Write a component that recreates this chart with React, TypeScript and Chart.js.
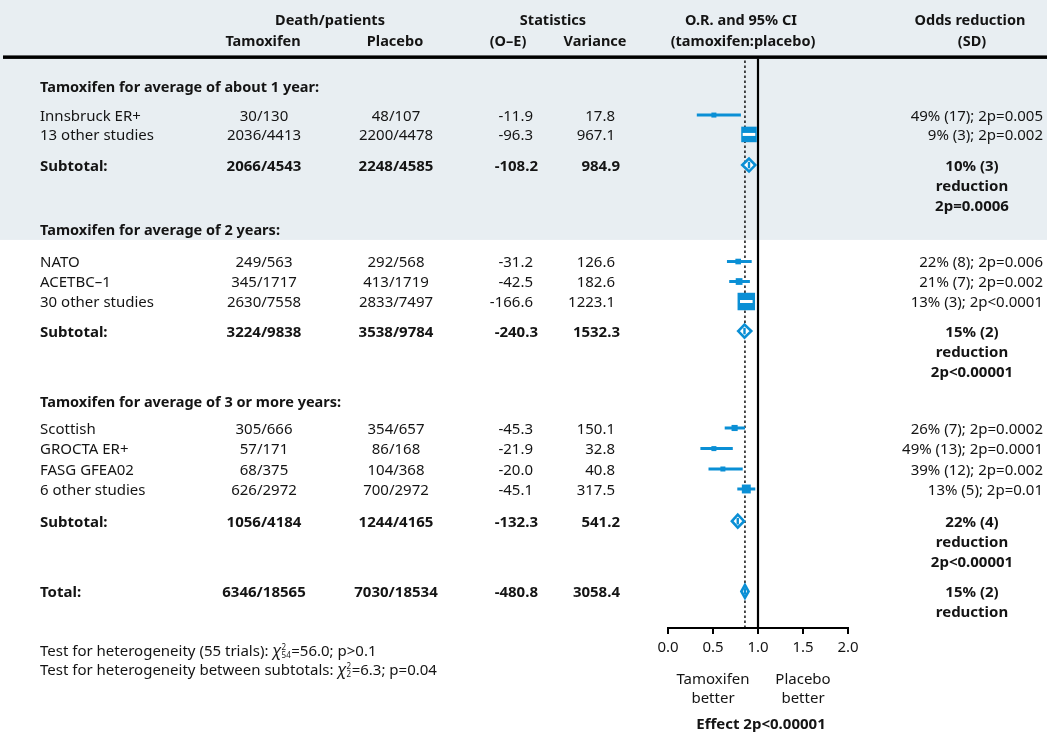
import { useEffect, useRef } from 'react';
import { Chart, registerables } from 'chart.js';

Chart.register(...registerables);

const FONT = '"Noto Sans", "Open Sans", sans-serif';
const BLUE = '#0a8fd5';
const SHADE = '#e8eef2';
const INK = '#141414';
const ROW_PX = 20.4; // one layout row in pixels
const Y_MAX = 735 / ROW_PX;
const TEXT_DY = 1.5;

// ---- Header ----
const HEAD_LINE1 = ['Death/patients', 'Statistics', 'O.R. and 95% CI', 'Odds reduction'];
const HEAD_LINE2 = ['Tamoxifen', 'Placebo', '(O–E)', 'Variance', '(tamoxifen:placebo)', '(SD)'];

// ---- Sections ----
const SECTION_TITLES = [
  'Tamoxifen for average of about 1 year:',
  'Tamoxifen for average of 2 years:',
  'Tamoxifen for average of 3 or more years:',
];
const SECTION_ROWS = [4.22, 11.23, 19.66];

// ---- Individual studies ----
const STUDY_NAMES = ['Innsbruck ER+', '13 other studies', 'NATO', 'ACETBC–1', '30 other studies', 'Scottish', 'GROCTA ER+', 'FASG GFEA02', '6 other studies'];
const STUDY_TAM = ['30/130', '2036/4413', '249/563', '345/1717', '2630/7558', '305/666', '57/171', '68/375', '626/2972'];
const STUDY_PLA = ['48/107', '2200/4478', '292/568', '413/1719', '2833/7497', '354/657', '86/168', '104/368', '700/2972'];
const STUDY_OE = [-11.9, -96.3, -31.2, -42.5, -166.6, -45.3, -21.9, -20.0, -45.1];
const STUDY_VAR = [17.8, 967.1, 126.6, 182.6, 1223.1, 150.1, 32.8, 40.8, 317.5];
const STUDY_OR = [0.51, 0.9, 0.78, 0.79, 0.87, 0.74, 0.51, 0.61, 0.87];
const STUDY_LO = [0.32, 0.83, 0.655, 0.68, 0.8, 0.63, 0.36, 0.45, 0.77];
const STUDY_HI = [0.81, 0.97, 0.93, 0.91, 0.94, 0.855, 0.72, 0.83, 0.97];
const STUDY_RED = ['49% (17); 2p=0.005', '9% (3); 2p=0.002', '22% (8); 2p=0.006', '21% (7); 2p=0.002', '13% (3); 2p<0.0001', '26% (7); 2p=0.0002', '49% (13); 2p=0.0001', '39% (12); 2p=0.002', '13% (5); 2p=0.01'];
const STUDY_ROWS = [5.64, 6.59, 12.82, 13.8, 14.78, 20.98, 21.99, 22.99, 23.97];

// ---- Subtotals and total ----
const SUB_LABELS = ['Subtotal:', 'Subtotal:', 'Subtotal:', 'Total:'];
const SUB_TAM = ['2066/4543', '3224/9838', '1056/4184', '6346/18565'];
const SUB_PLA = ['2248/4585', '3538/9784', '1244/4165', '7030/18534'];
const SUB_OE = [-108.2, -240.3, -132.3, -480.8];
const SUB_VAR = [984.9, 1532.3, 541.2, 3058.4];
const SUB_OR = [0.9, 0.85, 0.775, 0.855];
const SUB_LO = [0.825, 0.78, 0.71, 0.815];
const SUB_HI = [0.97, 0.925, 0.845, 0.895];
const SUB_RED = [
  ['10% (3)', 'reduction', '2p=0.0006'],
  ['15% (2)', 'reduction', '2p<0.00001'],
  ['22% (4)', 'reduction', '2p<0.00001'],
  ['15% (2)', 'reduction'],
];
const SUB_ROWS = [8.09, 16.23, 25.55, 28.99];

const OVERALL_OR = 0.855;
const X_TICKS = [0, 0.5, 1, 1.5, 2];

// ---- Layout rows ----
const HEAD_ROWS = [0.93, 1.96];
const RULE_ROW = 2.79;
const SHADE_END_ROW = 11.76;
const LINE_TOP_ROW = 2.87;
const AXIS_ROW = 30.78;
const HET_ROWS = [31.86, 32.8];
const BETTER_ROWS = [33.24, 34.2];
const EFFECT_ROW = 35.45;

const HET_TEXT = [
  ['Test for heterogeneity (55 trials): ', '2', '54', '=56.0; p>0.1'],
  ['Test for heterogeneity between subtotals: ', '2', '2', '=6.3; p=0.04'],
];

const COL = { label: 40, tam: 264, pla: 396, oeR: 533, varR: 615, redR: 1043, redC: 972 };
const HEAD1_X = [330, 553, 741, 970];
const HEAD2_X = [263, 395, 508, 595, 743, 972];

const boxSide = (v: number) => Math.max(5, 0.5 * Math.sqrt(v));

export default function App() {
  const ref = useRef<HTMLCanvasElement>(null);

  useEffect(() => {
    const canvas = ref.current!;

    const text = (ctx: CanvasRenderingContext2D, s: string, x: number, y: number, align: CanvasTextAlign, bold = false, size = 15) => {
      ctx.font = `${bold ? 'bold ' : ''}${size}px ${FONT}`;
      ctx.textAlign = align;
      ctx.textBaseline = 'middle';
      ctx.fillStyle = INK;
      ctx.fillText(s, x, y + TEXT_DY);
    };

    const bgPlugin = {
      id: 'bg',
      beforeDraw(chart: any) {
        const { ctx, width } = chart;
        const ys = chart.scales.y;
        ctx.save();
        ctx.fillStyle = '#ffffff';
        ctx.fillRect(0, 0, width, chart.height);
        ctx.fillStyle = SHADE;
        ctx.fillRect(0, 0, width, ys.getPixelForValue(SHADE_END_ROW));
        ctx.fillStyle = '#000';
        ctx.fillRect(3, ys.getPixelForValue(RULE_ROW) - 1.5, width - 3, 3.5);
        ctx.restore();
      },
    };

    const marksPlugin = {
      id: 'marks',
      afterDatasetsDraw(chart: any) {
        const { ctx } = chart;
        const xs = chart.scales.x;
        const ys = chart.scales.y;
        ctx.save();
        // white CI line inside large boxes
        STUDY_OR.forEach((or, i) => {
          const side = boxSide(STUDY_VAR[i]);
          if (side < 12) return;
          const cx = xs.getPixelForValue(or);
          const cy = ys.getPixelForValue(STUDY_ROWS[i]);
          const l = Math.max(xs.getPixelForValue(STUDY_LO[i]), cx - side / 2 + 1);
          const r = Math.min(xs.getPixelForValue(STUDY_HI[i]), cx + side / 2 - 1);
          ctx.fillStyle = '#fff';
          ctx.fillRect(l, cy - 1.5, r - l, 3);
        });
        // diamonds
        SUB_OR.forEach((or, i) => {
          const cx = xs.getPixelForValue(or);
          const cy = ys.getPixelForValue(SUB_ROWS[i]);
          const l = xs.getPixelForValue(SUB_LO[i]);
          const r = xs.getPixelForValue(SUB_HI[i]);
          const h = 6.5;
          ctx.beginPath();
          ctx.moveTo(l, cy);
          ctx.lineTo(cx, cy - h);
          ctx.lineTo(r, cy);
          ctx.lineTo(cx, cy + h);
          ctx.closePath();
          ctx.fillStyle = '#fff';
          ctx.fill();
          ctx.lineWidth = 2.6;
          ctx.strokeStyle = BLUE;
          ctx.lineJoin = 'miter';
          ctx.stroke();
          ctx.fillStyle = BLUE;
          ctx.fillRect(cx - 1.2, cy - h * 0.5, 2.4, h);
        });
        ctx.restore();
      },
    };

    const textPlugin = {
      id: 'texts',
      afterDraw(chart: any) {
        const { ctx } = chart;
        const xs = chart.scales.x;
        const ys = chart.scales.y;
        const Y = (r: number) => ys.getPixelForValue(r);
        ctx.save();
        HEAD_LINE1.forEach((s, i) => text(ctx, s, HEAD1_X[i], Y(HEAD_ROWS[0]), 'center', true, 14.5));
        HEAD_LINE2.forEach((s, i) => text(ctx, s, HEAD2_X[i], Y(HEAD_ROWS[1]), 'center', true, 14.5));

        SECTION_TITLES.forEach((s, i) => text(ctx, s, COL.label, Y(SECTION_ROWS[i]), 'left', true, 14.5));

        STUDY_NAMES.forEach((s, i) => {
          const y = Y(STUDY_ROWS[i]);
          text(ctx, s, COL.label, y, 'left');
          text(ctx, STUDY_TAM[i], COL.tam, y, 'center');
          text(ctx, STUDY_PLA[i], COL.pla, y, 'center');
          text(ctx, STUDY_OE[i].toFixed(1), COL.oeR, y, 'right');
          text(ctx, STUDY_VAR[i].toFixed(1), COL.varR, y, 'right');
          text(ctx, STUDY_RED[i], COL.redR, y, 'right');
        });

        SUB_LABELS.forEach((s, i) => {
          const y = Y(SUB_ROWS[i]);
          text(ctx, s, COL.label, y, 'left', true);
          text(ctx, SUB_TAM[i], COL.tam, y, 'center', true);
          text(ctx, SUB_PLA[i], COL.pla, y, 'center', true);
          text(ctx, SUB_OE[i].toFixed(1), COL.oeR + 5, y, 'right', true);
          text(ctx, SUB_VAR[i].toFixed(1), COL.varR + 5, y, 'right', true);
          SUB_RED[i].forEach((line, k) => text(ctx, line, COL.redC, Y(SUB_ROWS[i] + k * 0.98), 'center', true));
        });

        // heterogeneity tests
        HET_TEXT.forEach(([pre, sup, sub, post], i) => {
          const y = Y(HET_ROWS[i]);
          let x = COL.label;
          text(ctx, pre, x, y, 'left');
          x += ctx.measureText(pre).width;
          ctx.font = `italic 16px ${FONT}`;
          ctx.textAlign = 'left';
          ctx.fillText('χ', x, y + TEXT_DY);
          x += ctx.measureText('χ').width;
          ctx.font = `8px ${FONT}`;
          ctx.fillText(sup, x, y + TEXT_DY - 4);
          ctx.fillText(sub, x, y + TEXT_DY + 4);
          x += Math.max(ctx.measureText(sup).width, ctx.measureText(sub).width) + 0.5;
          text(ctx, post, x, y, 'left');
        });

        // direction labels
        const xl = xs.getPixelForValue(0.5);
        const xr = xs.getPixelForValue(1.5);
        text(ctx, 'Tamoxifen', xl, Y(BETTER_ROWS[0]), 'center');
        text(ctx, 'better', xl, Y(BETTER_ROWS[1]), 'center');
        text(ctx, 'Placebo', xr, Y(BETTER_ROWS[0]), 'center');
        text(ctx, 'better', xr, Y(BETTER_ROWS[1]), 'center');
        text(ctx, 'Effect 2p<0.00001', xs.getPixelForValue(1) + 3, Y(EFFECT_ROW), 'center', true);
        ctx.restore();
      },
    };

    const ciSets = STUDY_OR.map((_, i) => ({
      type: 'scatter' as const,
      data: [
        { x: STUDY_LO[i], y: STUDY_ROWS[i] },
        { x: STUDY_HI[i], y: STUDY_ROWS[i] },
      ],
      showLine: true,
      borderColor: BLUE,
      borderWidth: 3,
      pointRadius: 0,
      order: 2,
    }));

    const chart = new Chart(canvas, {
      type: 'scatter',
      data: {
        datasets: [
          {
            data: STUDY_OR.map((or, i) => ({ x: or, y: STUDY_ROWS[i] })),
            pointStyle: 'rect',
            pointRadius: STUDY_VAR.map((v) => boxSide(v) / Math.SQRT2),
            backgroundColor: BLUE,
            borderWidth: 0,
            order: 1,
          } as any,
          ...ciSets,
          {
            data: [
              { x: 1, y: LINE_TOP_ROW },
              { x: 1, y: AXIS_ROW },
            ],
            showLine: true,
            borderColor: '#000',
            borderWidth: 2.2,
            pointRadius: 0,
            order: 4,
          },
          {
            data: [
              { x: OVERALL_OR, y: LINE_TOP_ROW + 0.1 },
              { x: OVERALL_OR, y: AXIS_ROW },
            ],
            showLine: true,
            borderColor: '#000',
            borderWidth: 1.4,
            borderDash: [2.5, 2.5],
            pointRadius: 0,
            order: 5,
          },
        ],
      },
      options: {
        responsive: false,
        animation: false,
        devicePixelRatio: 1,
        layout: { autoPadding: false, padding: { left: 668, right: 199, top: 0, bottom: 0 } },
        plugins: { legend: { display: false }, tooltip: { enabled: false } },
        scales: {
          x: {
            type: 'linear',
            min: 0,
            max: 2,
            position: { y: AXIS_ROW } as any,
            afterFit: (s: any) => {
              s.height = 0;
            },
            afterBuildTicks: (s: any) => {
              s.ticks = X_TICKS.map((v) => ({ value: v }));
            },
            ticks: {
              callback: (v: any) => Number(v).toFixed(1),
              font: { family: FONT, size: 15 },
              color: INK,
              padding: 6,
              maxRotation: 0,
              autoSkip: false,
            },
            grid: { drawOnChartArea: false, drawTicks: true, tickLength: 5, color: '#000', lineWidth: 2 },
            border: { display: true, color: '#000', width: 2 },
          },
          y: {
            type: 'linear',
            reverse: true,
            min: 0,
            max: Y_MAX,
            display: false,
          },
        },
      },
      plugins: [bgPlugin, marksPlugin, textPlugin],
    });

    return () => chart.destroy();
  }, []);

  return (
    <div style={{ position: 'absolute', left: 0, top: 0, width: 1047, height: 735, background: '#fff' }}>
      <canvas ref={ref} width={1047} height={735} style={{ display: 'block' }} />
    </div>
  );
}
